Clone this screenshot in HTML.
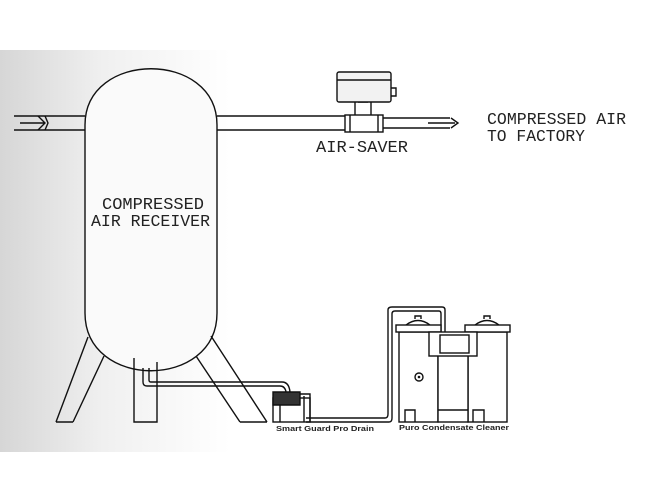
<!DOCTYPE html>
<html><head><meta charset="utf-8"><style>
html,body{margin:0;padding:0;background:#fff;}
svg{display:block;}
text{font-family:"Liberation Mono",monospace;fill:#222;}
</style></head><body>
<svg width="650" height="502" viewBox="0 0 650 502" xmlns="http://www.w3.org/2000/svg">
<defs>
<linearGradient id="bg" x1="0" x2="1" y1="0" y2="0">
<stop offset="0" stop-color="#d6d6d6"/><stop offset="0.45" stop-color="#f0f0f0"/><stop offset="1" stop-color="#ffffff"/>
</linearGradient>
</defs>
<rect x="0" y="50" width="230" height="402" fill="url(#bg)"/>
<g fill="none" stroke="#111" stroke-width="1.4">
<!-- inlet pipe -->
<path d="M14,116 H85 M14,130 H85"/>
<path d="M20,123 H45 M38,116 L45,123 L38,130 M45,116 L48,123 L45,130"/>
<!-- tank -->
<path d="M85,125 C85,50 217,50 217,125 V313 C217,390 85,390 85,313 Z" fill="#fafafa"/>
<!-- legs -->
<path d="M56,422 L88,337 M73,422 L104,356 M56,422 H73"/>
<path d="M134,358 V422 H157 V362"/>
<path d="M196,356 L240,422 M211,336 L267,422 M240,422 H267"/>
<!-- drain pipe from tank -->
<path d="M143,368 V382 Q143,386 147,386 H280 Q285,386 286,392 M149,368 V380 Q149,382 151,382 H282 Q289,382 290,392"/>
<!-- outlet pipe -->
<path d="M217,116 H345 M217,130 H345"/>
<rect x="345" y="115" width="38" height="17" fill="#fff"/>
<path d="M350,115 V132 M378,115 V132"/>
<path d="M355,102 V115 M371,102 V115 M358,102 H368"/>
<rect x="337" y="72" width="54" height="30" rx="2" fill="#f2f2f2"/>
<path d="M337,80 H391"/>
<path d="M391,88 H396 V96 H391"/>
<path d="M383,118 H450 M383,128 H450 M428,123 H455 M451,118 L458,123 L451,128"/>
<!-- drain -->
<rect x="273" y="398" width="37" height="24" fill="#fff"/>
<path d="M273,392 H300 V405 H273 Z" fill="#333"/>
<path d="M300,394 H310 V422 M304,396 V422 M280,405 V422"/>
<!-- pipe to cleaner -->
<path d="M306,418 H385 Q388,418 388,414 V310 Q388,307 392,307 H442 Q445,307 445,310 V332 M306,422 H389 Q392,422 392,418 V314 Q392,311 395,311 H439 Q441,311 441,314 V332"/>
<!-- cleaner -->
<rect x="399" y="332" width="39" height="90" fill="#fff"/>
<rect x="468" y="332" width="39" height="90" fill="#fff"/>
<rect x="438" y="355" width="30" height="67" fill="#fff"/>
<rect x="396" y="325" width="45" height="7" fill="#fff"/>
<rect x="465" y="325" width="45" height="7" fill="#fff"/>
<path d="M406,325 Q418,316 430,325 M415,319 V316 H421 V319 M475,325 Q487,316 499,325 M484,319 V316 H490 V319"/>
<rect x="429" y="332" width="48" height="24" fill="#fff"/>
<rect x="440" y="335" width="29" height="18"/>
<path d="M438,410 H468"/>
<path d="M405,422 V410 H415 V422 M473,422 V410 H484 V422"/>
<circle cx="419" cy="377" r="4"/>
</g>
<circle cx="419" cy="377" r="1.3" fill="#111"/>
<g font-size="17">
<text x="487" y="124" textLength="139" lengthAdjust="spacingAndGlyphs">COMPRESSED AIR</text>
<text x="487" y="141" textLength="98" lengthAdjust="spacingAndGlyphs">TO FACTORY</text>
<text x="316" y="152" textLength="92" lengthAdjust="spacingAndGlyphs">AIR-SAVER</text>
<text x="102" y="209" textLength="102" lengthAdjust="spacingAndGlyphs">COMPRESSED</text>
<text x="91" y="226" textLength="119" lengthAdjust="spacingAndGlyphs">AIR RECEIVER</text>
</g>
<g font-family="Liberation Sans,sans-serif" font-weight="bold" font-size="7.5">
<text x="276" y="431" textLength="98" lengthAdjust="spacingAndGlyphs" style="font-family:'Liberation Sans',sans-serif">Smart Guard Pro Drain</text>
<text x="399" y="430" textLength="110" lengthAdjust="spacingAndGlyphs" style="font-family:'Liberation Sans',sans-serif">Puro Condensate Cleaner</text>
</g>
</svg>
</body></html>
